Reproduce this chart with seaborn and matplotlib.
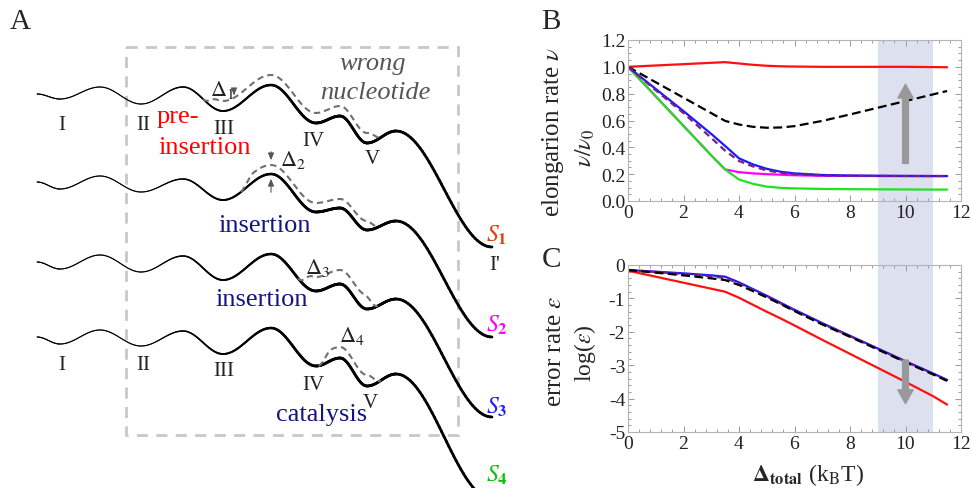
import numpy as np
import pandas as pd
import matplotlib
matplotlib.use('Agg')
import matplotlib.pyplot as plt
import seaborn as sns
from matplotlib.collections import LineCollection
from matplotlib.patches import Rectangle
from matplotlib.ticker import MultipleLocator, FormatStrFormatter

# ---------------- data: panels B and C ----------------
d_total = [0, 1, 2, 3, 3.5, 4, 4.5, 5, 5.5, 6, 7, 8, 9, 10, 11, 11.5]

v_red = [1.0, 1.01, 1.02, 1.03, 1.035, 1.025, 1.015, 1.008, 1.004, 1.002, 1.0, 1.0, 1.0, 1.0, 0.998, 0.997]
v_black = [1.0, 0.885, 0.77, 0.655, 0.597, 0.57, 0.553, 0.546, 0.548, 0.558, 0.597, 0.645, 0.695, 0.745, 0.795, 0.82]
v_magenta = [1.0, 0.78, 0.56, 0.34, 0.235, 0.215, 0.206, 0.2, 0.196, 0.192, 0.188, 0.187, 0.186, 0.186, 0.186, 0.186]
v_green = [1.0, 0.78, 0.56, 0.34, 0.235, 0.16, 0.128, 0.107, 0.098, 0.094, 0.09, 0.088, 0.087, 0.086, 0.085, 0.085]
v_blue = [1.0, 0.835, 0.67, 0.5, 0.41, 0.318, 0.273, 0.24, 0.218, 0.206, 0.194, 0.19, 0.188, 0.187, 0.186, 0.186]
v_purple = [1.0, 0.825, 0.655, 0.47, 0.375, 0.298, 0.258, 0.228, 0.21, 0.2, 0.19, 0.188, 0.187, 0.186, 0.186, 0.186]

e_red = [-0.17, -0.35, -0.53, -0.71, -0.8, -0.98, -1.19, -1.4, -1.6, -1.81, -2.24, -2.66, -3.08, -3.5, -3.93, -4.18]
e_blue = [-0.15, -0.2, -0.25, -0.31, -0.35, -0.52, -0.72, -0.92, -1.13, -1.34, -1.74, -2.12, -2.5, -2.88, -3.25, -3.44]
e_purple = [-0.15, -0.21, -0.27, -0.34, -0.39, -0.55, -0.74, -0.94, -1.15, -1.36, -1.76, -2.13, -2.51, -2.89, -3.26, -3.45]
e_black = [-0.15, -0.23, -0.31, -0.4, -0.45, -0.6, -0.78, -0.97, -1.17, -1.38, -1.78, -2.15, -2.53, -2.91, -3.28, -3.47]

# ---------------- data: panel A (schematic landscapes, pixel units) ----------------
land_x = [37, 60, 100, 141, 183, 223, 271, 316, 340, 367, 396, 492]
land_s1 = [95, 100, 88, 105, 88, 112, 86, 124, 117, 144, 132, 248]
land_s2 = [183, 190, 177, 193, 180, 201, 175, 213, 209, 231, 222, 338]
land_s3 = [263, 270, 256, 273, 257, 281, 255, 292, 285, 310, 300, 418]
land_s4 = [338, 345, 331, 347, 332, 355, 329, 367, 359, 387, 375, 500]
# wrong-nucleotide bumps: (start, end, raise)
bumps = [(203, 382, 10), (240, 380, 9), (298, 378, 14), (318, 381, 11)]

W, H = 972, 489

sns.set_theme(style='ticks')
plt.rcParams['font.family'] = ['Liberation Serif', 'DejaVu Serif']
plt.rcParams['mathtext.fontset'] = 'stix'
plt.rcParams['axes.unicode_minus'] = False

fig = plt.figure(figsize=(W / 100, H / 100), dpi=100)

# canvas axes in pixel coordinates (panel A + labels)
axA = fig.add_axes([0, 0, 1, 1])
axA.set_xlim(0, W)
axA.set_ylim(H, 0)
axA.axis('off')
axA.patch.set_alpha(0)


def smooth(xs, ys, n=40):
    px, py = [], []
    for i in range(len(xs) - 1):
        t = np.linspace(0, 1, n, endpoint=False)
        px.append(xs[i] + (xs[i + 1] - xs[i]) * t)
        py.append(ys[i] + (ys[i + 1] - ys[i]) * (1 - np.cos(np.pi * t)) / 2)
    px.append([xs[-1]])
    py.append([ys[-1]])
    return np.concatenate(px), np.concatenate(py)


for ys, (xa, xb, amp) in zip([land_s1, land_s2, land_s3, land_s4], bumps):
    px, py = smooth(land_x, ys)
    pts = np.column_stack([px, py]).reshape(-1, 1, 2)
    segs = np.concatenate([pts[:-1], pts[1:]], axis=1)
    lw = 0.8 + 1.2 * np.clip((px[:-1] - 150) / 150, 0, 1)
    axA.add_collection(LineCollection(segs, linewidths=lw, colors='black', capstyle='round'))
    # dashed wrong-nucleotide path
    m = (px >= xa) & (px <= xb)
    w = np.clip((px - xa) / 14, 0, 1) * np.clip((xb - px) / 14, 0, 1)
    w = (1 - np.cos(np.pi * w)) / 2
    axA.plot(px[m], py[m] - amp * w[m], color='#707070', lw=1.5, dashes=(3, 2))

# dashed frame
axA.add_patch(Rectangle((126, 48), 332, 388, fill=False, ec='#c8c8c8', lw=2, ls=(0, (4, 3))))

roman = dict(fontsize=15, color='#222222', ha='center', va='center')
for lab, x, y in [('I', 62, 125), ('II', 143, 126), ('III', 224, 129), ('IV', 313, 142), ('V', 372, 160),
                  ('I', 62, 366), ('II', 143, 365), ('III', 224, 372), ('IV', 313, 385), ('V', 370, 403)]:
    axA.text(x, y, lab, **roman)
axA.text(495, 266, "I'", **roman)

axA.text(20, 22, 'A', fontsize=21, ha='center', va='center')
axA.text(373, 64, 'wrong', fontsize=19, style='italic', color='#555555', ha='center', va='center')
axA.text(375, 93, 'nucleotide', fontsize=19, style='italic', color='#555555', ha='center', va='center')
axA.text(157, 117, 'pre-', fontsize=19, color='#ff0000', ha='left', va='center')
axA.text(205, 148, 'insertion', fontsize=19, color='#ff0000', ha='center', va='center')
axA.text(265, 226, 'insertion', fontsize=19, color='#141482', ha='center', va='center')
axA.text(262, 300, 'insertion', fontsize=19, color='#141482', ha='center', va='center')
axA.text(322, 415, 'catalysis', fontsize=19, color='#141482', ha='center', va='center')

for lab, x, y in [(r'$\Delta_1$', 222, 90), (r'$\Delta_2$', 293, 160), (r'$\Delta_3$', 318, 268), (r'$\Delta_4$', 352, 336)]:
    axA.text(x, y, lab, fontsize=16, color='#222222', ha='center', va='center')
small_arrow = dict(arrowstyle='-|>,head_width=0.15,head_length=0.35', color='#555555', lw=0.8)
axA.annotate('', xy=(234, 99), xytext=(234, 91), arrowprops=small_arrow)
axA.annotate('', xy=(271, 164), xytext=(271, 150), arrowprops=small_arrow)
axA.annotate('', xy=(271, 177), xytext=(271, 196), arrowprops=small_arrow)

for lab, col, y in [('1', '#e0400f', 235), ('2', '#ff00ff', 325), ('3', '#2020ff', 407), ('4', '#10c010', 475)]:
    axA.text(497, y, r'$S_{\mathbf{' + lab + '}}$', fontsize=17, color=col, ha='center', va='center')

# ---------------- panels B and C ----------------
left, right = 628 / W, 961 / W
axB = fig.add_axes([left, 1 - 202 / H, right - left, 161 / H])
axC = fig.add_axes([left, 1 - 433 / H, right - left, 167 / H])
for ax in (axB, axC):
    ax.patch.set_alpha(0)

band_lo = -(433 - 202) / 161
axB.axvspan(9, 11, ymin=band_lo, ymax=1, color='#dde0ee', lw=0, clip_on=False, zorder=0)

dfB = pd.DataFrame({'x': d_total, 'red': v_red, 'black': v_black, 'magenta': v_magenta,
                    'green': v_green, 'blue': v_blue, 'purple': v_purple})
sns.lineplot(data=dfB, x='x', y='red', ax=axB, color='#ff1010', lw=1.6)
sns.lineplot(data=dfB, x='x', y='black', ax=axB, color='black', lw=1.6, linestyle=(0, (4, 2)))
sns.lineplot(data=dfB, x='x', y='magenta', ax=axB, color='#ff00ff', lw=1.6)
sns.lineplot(data=dfB, x='x', y='green', ax=axB, color='#22e022', lw=1.6)
sns.lineplot(data=dfB, x='x', y='blue', ax=axB, color='#1a1aff', lw=1.6)
sns.lineplot(data=dfB, x='x', y='purple', ax=axB, color='#7a207e', lw=1.6, linestyle=(0, (3, 2)))

dfC = pd.DataFrame({'x': d_total, 'red': e_red, 'blue': e_blue, 'purple': e_purple, 'black': e_black})
sns.lineplot(data=dfC, x='x', y='red', ax=axC, color='#ff1010', lw=1.6)
sns.lineplot(data=dfC, x='x', y='blue', ax=axC, color='#1a1aff', lw=1.6)
sns.lineplot(data=dfC, x='x', y='purple', ax=axC, color='#7a207e', lw=1.6, linestyle=(0, (3, 2)))
sns.lineplot(data=dfC, x='x', y='black', ax=axC, color='black', lw=1.6, linestyle=(0, (4, 2)))

big_arrow = dict(arrowstyle='simple,head_length=0.9,head_width=1.0,tail_width=0.38',
                 color='#999999', shrinkA=0, shrinkB=0, mutation_scale=11)
axB.annotate('', xy=(10, 0.87), xytext=(10, 0.28), arrowprops=big_arrow)
axC.annotate('', xy=(10, -4.15), xytext=(10, -2.85), arrowprops=big_arrow)

axB.set_ylim(0, 1.2)
axB.yaxis.set_major_locator(MultipleLocator(0.2))
axB.yaxis.set_minor_locator(MultipleLocator(0.05))
axB.yaxis.set_major_formatter(FormatStrFormatter('%.1f'))
axC.set_ylim(-5, 0)
axC.yaxis.set_major_locator(MultipleLocator(1))
axC.yaxis.set_minor_locator(MultipleLocator(0.2))

for ax in (axB, axC):
    ax.set_xlim(0, 12)
    ax.xaxis.set_major_locator(MultipleLocator(2))
    ax.xaxis.set_minor_locator(MultipleLocator(0.4))
    ax.set_xlabel('')
    ax.set_ylabel('')
    ax.tick_params(which='both', direction='in', top=True, right=True, color='#9a9a9a',
                   labelsize=14, pad=2, width=0.7)
    ax.tick_params(which='major', length=4)
    ax.tick_params(which='minor', length=2)
    for sp in ax.spines.values():
        sp.set_color('#b4b4b4')
        sp.set_linewidth(0.8)
    for lab in ax.get_xticklabels() + ax.get_yticklabels():
        lab.set_color('#222222')

fig.text(551 / W, 1 - 22 / H, 'B', fontsize=21, ha='center', va='center')
fig.text(551 / W, 1 - 260 / H, 'C', fontsize=21, ha='center', va='center')
fig.text(553 / W, 1 - 132 / H, r'elongarion rate $\nu$', fontsize=18, rotation=90, ha='center', va='center')
fig.text(585 / W, 1 - 148 / H, r'$\nu/\nu_0$', fontsize=17, rotation=90, ha='center', va='center')
fig.text(555 / W, 1 - 351 / H, r'error rate $\varepsilon$', fontsize=18, rotation=90, ha='center', va='center')
fig.text(585 / W, 1 - 353 / H, r'log($\varepsilon$)', fontsize=17, rotation=90, ha='center', va='center')
fig.text(808 / W, 1 - 475 / H, r'$\mathbf{\Delta_{total}}$ (k$_{\mathrm{B}}$T)', fontsize=17,
         ha='center', va='center')

fig.savefig('out.png', dpi=100)
